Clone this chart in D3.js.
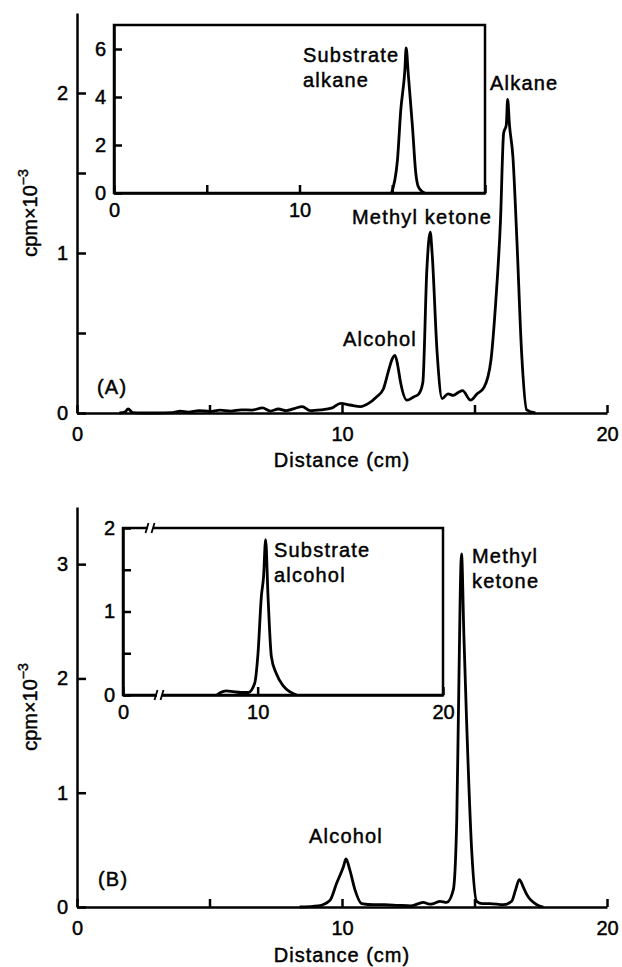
<!DOCTYPE html>
<html>
<head>
<meta charset="utf-8">
<script src="https://cdn.jsdelivr.net/npm/d3@7"></script>
<style>
body { margin: 0; background: #fff; }
svg text { font-family: "Liberation Sans", Arial, sans-serif; fill: #000; stroke: #000; stroke-width: 0.45px; }
</style>
</head>
<body>
<svg id="chart" width="622" height="967"></svg>
<script>
// panel A main trace (distance cm, cpm x 10^-3)
const distA = [1.6, 1.8, 1.93, 2.1, 2.4, 3.0, 3.6, 3.9, 4.2, 4.6, 5.0, 5.4, 5.8, 6.2, 6.6, 7.0, 7.3, 7.6, 7.9, 8.2, 8.5, 8.8, 9.2, 9.6, 9.95, 10.3, 10.7, 11.0, 11.3, 11.56, 11.75, 11.9, 12.0, 12.1, 12.2, 12.45, 12.7, 12.9, 13.05, 13.2, 13.33, 13.4, 13.59, 13.78, 14.0, 14.2, 14.4, 14.55, 14.85, 15.1, 15.36, 15.62, 15.8, 15.98, 16.1, 16.2, 16.25, 16.32, 16.45, 16.6, 16.78, 16.97, 17.3];
const cpmA = [0, 0.005, 0.025, 0.003, 0, 0, 0.002, 0.012, 0.006, 0.015, 0.01, 0.018, 0.012, 0.02, 0.018, 0.032, 0.012, 0.025, 0.015, 0.028, 0.04, 0.015, 0.02, 0.03, 0.06, 0.05, 0.04, 0.06, 0.1, 0.15, 0.26, 0.34, 0.36, 0.3, 0.2, 0.08, 0.1, 0.12, 0.19, 0.89, 1.13, 1.0, 0.375, 0.09, 0.12, 0.11, 0.13, 0.14, 0.08, 0.12, 0.16, 0.33, 0.69, 1.2, 1.75, 1.8, 1.96, 1.8, 1.6, 1.08, 0.37, 0.02, 0];

// panel A inset: substrate alkane (cpm x 10^-3)
const distAi = [14.96, 15.28, 15.46, 15.68, 15.75, 15.86, 16.09, 16.27, 16.4, 16.63, 16.76];
const cpmAi = [0, 1.37, 3.46, 5.12, 6.05, 4.99, 2.76, 0.82, 0.27, 0.05, 0];

// panel B main trace
const distB = [8.4, 9.1, 9.55, 9.8, 10.05, 10.15, 10.3, 10.49, 10.74, 11.2, 11.6, 12.1, 12.6, 13.07, 13.3, 13.45, 13.7, 13.95, 14.2, 14.33, 14.39, 14.51, 14.6, 14.7, 14.9, 15.08, 15.3, 15.58, 16.09, 16.4, 16.55, 16.69, 16.85, 16.97, 17.35, 17.6];
const cpmB = [0, 0.01, 0.06, 0.21, 0.35, 0.42, 0.32, 0.15, 0.03, 0.02, 0.02, 0.015, 0.01, 0.04, 0.025, 0.03, 0.05, 0.04, 0.15, 0.76, 1.64, 3.09, 2.37, 1.64, 0.47, 0.05, 0.03, 0.03, 0.02, 0.05, 0.15, 0.24, 0.17, 0.11, 0.02, 0];

// panel B inset: substrate alcohol
const distBi = [7.8, 8.0, 8.3, 8.7, 9.1, 9.5, 9.84, 10.02, 10.2, 10.32, 10.43, 10.56, 10.74, 11.0, 11.38, 11.73, 12.1];
const cpmBi = [0, 0.03, 0.05, 0.04, 0.03, 0.03, 0.14, 0.5, 1.18, 1.42, 1.86, 1.18, 0.46, 0.26, 0.11, 0.04, 0];

// ticks
const xTicksMain = [0, 5, 10, 15, 20];
const yTicksA = [0, 0.5, 1, 1.5, 2];
const yTicksB = [0, 1, 2, 3];
const xTicksAi = [0, 5, 10, 15, 20];
const yTicksAi = [0, 2, 4, 6];
const xTicksBi = [0, 10, 20];
const yTicksBi = [0, 0.5, 1, 1.5, 2];

const svg = d3.select("#chart");

const xA = d3.scaleLinear().domain([0, 20]).range([77, 607]);
const yA = d3.scaleLinear().domain([0, 2.5]).range([413, 13]);
const xAi = d3.scaleLinear().domain([0, 20]).range([114, 485]);
const yAi = d3.scaleLinear().domain([0, 7]).range([193, 25]);
const xB = d3.scaleLinear().domain([0, 20]).range([77, 607]);
const yB = d3.scaleLinear().domain([0, 3.5]).range([907, 507]);
// inset B has a broken x axis near the origin
const xBi = d3.scaleLinear().domain([0, 4.3, 20]).range([123, 152, 443]);
const yBi = d3.scaleLinear().domain([0, 2]).range([695, 528]);

function styleAxis(g) {
    g.attr("font-size", null).attr("font-family", null);
    g.select(".domain").attr("stroke-width", 2.5);
    g.selectAll(".tick line").attr("stroke-width", 2.5);
    g.selectAll(".tick text").style("font-size", "20px");
}

const intOnly = d => Number.isInteger(d) ? d : "";

function trace(xs, ys, x, y) {
    const line = d3.line().x(d => x(d[0])).y(d => y(d[1])).curve(d3.curveMonotoneX);
    svg.append("path")
        .datum(xs.map((v, i) => [v, ys[i]]))
        .attr("d", line)
        .attr("fill", "none")
        .attr("stroke", "#000")
        .attr("stroke-width", 2.8)
        .attr("stroke-linejoin", "round");
}

function label(lines, x, y, lh) {
    lines.forEach((t, i) => {
        svg.append("text")
            .attr("x", x).attr("y", y + i * (lh || 25))
            .style("font-size", "20px")
            .style("letter-spacing", "1.2px")
            .text(t);
    });
}

function yTitle(cy) {
    const t = svg.append("text")
        .attr("transform", `translate(37,${cy}) rotate(-90)`)
        .attr("text-anchor", "middle")
        .style("font-size", "20px");
    t.append("tspan").text("cpm×10");
    t.append("tspan").attr("dy", -9).style("font-size", "14px").text("−3");
}

function xTitle(y) {
    svg.append("text")
        .attr("x", 342).attr("y", y)
        .attr("text-anchor", "middle")
        .style("font-size", "20px")
        .style("letter-spacing", "1px")
        .text("Distance (cm)");
}

// ---------- panel A ----------
svg.append("g").attr("transform", "translate(77,0)")
    .call(d3.axisLeft(yA).tickValues(yTicksA).tickFormat(intOnly).tickSize(-9).tickSizeOuter(0).tickPadding(9))
    .call(styleAxis);
svg.append("g").attr("transform", "translate(0,413)")
    .call(d3.axisBottom(xA).tickValues(xTicksMain).tickFormat(d => d % 10 === 0 ? d : "").tickSize(-8).tickSizeOuter(0).tickPadding(14))
    .call(styleAxis);
trace(distA, cpmA, xA, yA);

// inset A
svg.append("rect").attr("x", 114).attr("y", 25).attr("width", 371).attr("height", 168)
    .attr("fill", "#fff").attr("stroke", "#000").attr("stroke-width", 2.5);
svg.append("g").attr("transform", "translate(114,0)")
    .call(d3.axisLeft(yAi).tickValues(yTicksAi).tickFormat(d3.format("d")).tickSize(-8).tickSizeOuter(0).tickPadding(8))
    .call(styleAxis);
svg.append("g").attr("transform", "translate(0,193)")
    .call(d3.axisBottom(xAi).tickValues(xTicksAi).tickFormat(d => d === 0 || d === 10 ? d : "").tickSize(-8).tickSizeOuter(0).tickPadding(10))
    .call(styleAxis);
trace(distAi, cpmAi, xAi, yAi);

label(["Substrate", "alkane"], 303, 62);
label(["Alkane"], 490, 90);
label(["Methyl ketone"], 352, 224);
label(["Alcohol"], 343, 346);
label(["(A)"], 97, 394);
yTitle(213);
xTitle(467);

// ---------- panel B ----------
svg.append("g").attr("transform", "translate(77,0)")
    .call(d3.axisLeft(yB).tickValues(yTicksB).tickFormat(d3.format("d")).tickSize(-9).tickSizeOuter(0).tickPadding(9))
    .call(styleAxis);
svg.append("g").attr("transform", "translate(0,907)")
    .call(d3.axisBottom(xB).tickValues(xTicksMain).tickFormat(d => d % 10 === 0 ? d : "").tickSize(-8).tickSizeOuter(0).tickPadding(14))
    .call(styleAxis);
trace(distB, cpmB, xB, yB);

// inset B
svg.append("rect").attr("x", 123).attr("y", 528).attr("width", 320).attr("height", 167)
    .attr("fill", "#fff").attr("stroke", "#000").attr("stroke-width", 2.5);
svg.append("g").attr("transform", "translate(123,0)")
    .call(d3.axisLeft(yBi).tickValues(yTicksBi).tickFormat(intOnly).tickSize(-8).tickSizeOuter(0).tickPadding(8))
    .call(styleAxis);
svg.append("g").attr("transform", "translate(0,695)")
    .call(d3.axisBottom(xBi).tickValues(xTicksBi).tickFormat(d3.format("d")).tickSize(-8).tickSizeOuter(0).tickPadding(10))
    .call(styleAxis);
trace(distBi, cpmBi, xBi, yBi);

// axis break marks
[[150, 528], [159, 695]].forEach(([bx, by]) => {
    svg.append("rect").attr("x", bx - 2).attr("y", by - 3).attr("width", 5).attr("height", 6).attr("fill", "#fff");
    [-3, 3].forEach(dx => {
        svg.append("line")
            .attr("x1", bx + dx - 1.5).attr("y1", by + 5)
            .attr("x2", bx + dx + 1.5).attr("y2", by - 5)
            .attr("stroke", "#000").attr("stroke-width", 1.8);
    });
});

label(["Substrate", "alcohol"], 274, 557);
label(["Methyl", "ketone"], 472, 563);
label(["Alcohol"], 309, 843);
label(["(B)"], 98, 886);
yTitle(707);
xTitle(962);
</script>
</body>
</html>
